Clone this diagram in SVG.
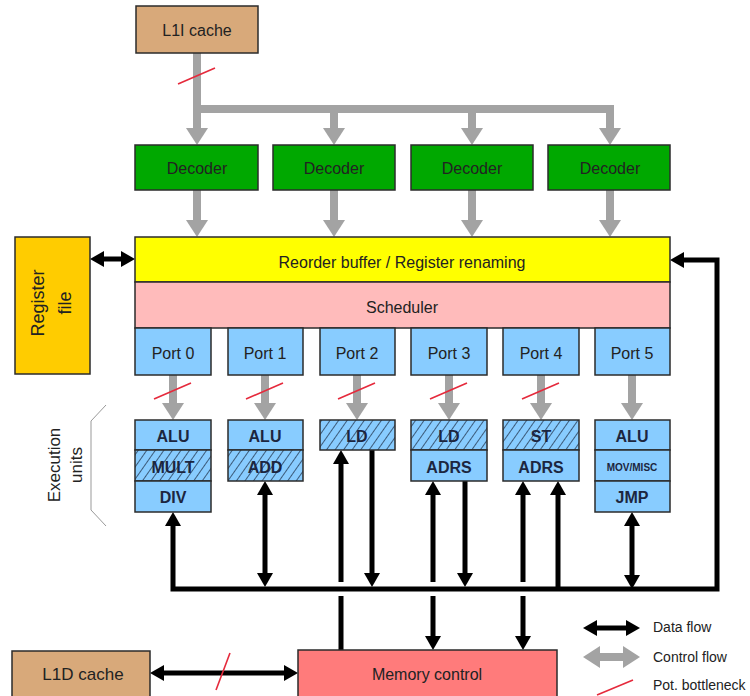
<svg xmlns="http://www.w3.org/2000/svg" width="750" height="696" viewBox="0 0 750 696">
  <defs>
    <style>
      .box { stroke: #2b2b2b; stroke-width: 1.5; }
      .cache { fill: #D8A97A; }
      .dec { fill: #00A800; }
      .port { fill: #88CCFF; }
      .hatch { fill: url(#hatch); }
      .t { font-family: "Liberation Sans", Arial, sans-serif; font-size: 16px; fill: #222; text-anchor: middle; dominant-baseline: central; }
      .u { font-family: "Liberation Sans", Arial, sans-serif; font-size: 16px; font-weight: bold; fill: #1c2640; text-anchor: middle; dominant-baseline: central; }
      .lg { font-family: "Liberation Sans", Arial, sans-serif; font-size: 14px; fill: #222; dominant-baseline: central; }
      .ctl { stroke: #A3A3A3; stroke-width: 8; fill: none; }
      .data { stroke: #000; stroke-width: 5; fill: none; }
      .slash { stroke: #E52A3C; stroke-width: 1.6; fill: none; }
      .brace { stroke: #999; stroke-width: 1; fill: none; }
    </style>
    <pattern id="hatch" patternUnits="userSpaceOnUse" width="7" height="7" patternTransform="rotate(35)">
      <rect width="7" height="7" fill="#88CCFF"/>
      <line x1="0" y1="0" x2="0" y2="7" stroke="#1b2a40" stroke-width="1.4"/>
    </pattern>
    <marker id="ga" markerUnits="userSpaceOnUse" markerWidth="18" markerHeight="24" refX="0" refY="11" orient="auto-start-reverse">
      <path d="M0,0 L17,11 L0,22 Z" fill="#A3A3A3"/>
    </marker>
    <marker id="ba" markerUnits="userSpaceOnUse" markerWidth="16" markerHeight="18" refX="0" refY="8" orient="auto-start-reverse">
      <path d="M0,0 L14,8 L0,16 Z" fill="#000"/>
    </marker>
  </defs>

  <!-- control flow (grey) and data flow (black) connectors -->
  <g id="connectors">
    <!-- fetch to decoders -->
    <path class="ctl" d="M197,53 L197,109 L610,109"/>
    <path class="ctl" marker-end="url(#ga)" d="M197,109 L197,128"/>
    <path class="ctl" marker-end="url(#ga)" d="M334,109 L334,128"/>
    <path class="ctl" marker-end="url(#ga)" d="M472,109 L472,128"/>
    <path class="ctl" marker-end="url(#ga)" d="M610,105 L610,128"/>
    <!-- decoders to reorder buffer -->
    <path class="ctl" marker-end="url(#ga)" d="M197,190 L197,220"/>
    <path class="ctl" marker-end="url(#ga)" d="M334,190 L334,220"/>
    <path class="ctl" marker-end="url(#ga)" d="M472,190 L472,220"/>
    <path class="ctl" marker-end="url(#ga)" d="M610,190 L610,220"/>
    <!-- ports to execution units -->
    <path class="ctl" marker-end="url(#ga)" d="M173,375 L173,403"/>
    <path class="ctl" marker-end="url(#ga)" d="M265,375 L265,403"/>
    <path class="ctl" marker-end="url(#ga)" d="M357,375 L357,403"/>
    <path class="ctl" marker-end="url(#ga)" d="M449,375 L449,403"/>
    <path class="ctl" marker-end="url(#ga)" d="M541,375 L541,403"/>
    <path class="ctl" marker-end="url(#ga)" d="M632,375 L632,403"/>

    <!-- register file <-> reorder buffer -->
    <path class="data" marker-start="url(#ba)" marker-end="url(#ba)" d="M104,259 L121,259"/>
    <!-- result bus with write-back to reorder buffer -->
    <path class="data" marker-start="url(#ba)" marker-end="url(#ba)" d="M173,526 L173,589 L717,589 L717,260 L684,260"/>
    <path class="data" marker-start="url(#ba)" marker-end="url(#ba)" d="M265,495 L265,573"/>
    <path class="data" marker-end="url(#ba)" d="M341,650 L341,596 M341,582 L341,464"/>
    <path class="data" marker-end="url(#ba)" d="M372,450 L372,573"/>
    <path class="data" marker-start="url(#ba)" marker-end="url(#ba)" d="M433,636 L433,596 M433,582 L433,495"/>
    <path class="data" marker-end="url(#ba)" d="M465,481 L465,573"/>
    <path class="data" marker-start="url(#ba)" marker-end="url(#ba)" d="M523,636 L523,596 M523,582 L523,495"/>
    <path class="data" marker-end="url(#ba)" d="M558,589 L558,495"/>
    <path class="data" marker-start="url(#ba)" marker-end="url(#ba)" d="M632,526 L632,575"/>
    <!-- L1D cache <-> memory control -->
    <path class="data" marker-start="url(#ba)" marker-end="url(#ba)" d="M164,673 L284,673"/>

    <!-- potential bottlenecks -->
    <line class="slash" x1="178" y1="84" x2="215" y2="68"/>
    <line class="slash" x1="154" y1="399" x2="191" y2="383"/>
    <line class="slash" x1="246" y1="399" x2="283" y2="383"/>
    <line class="slash" x1="338" y1="399" x2="375" y2="383"/>
    <line class="slash" x1="430" y1="399" x2="467" y2="383"/>
    <line class="slash" x1="522" y1="399" x2="559" y2="383"/>
    <line class="slash" x1="216" y1="690" x2="230" y2="653"/>
  </g>

  <g id="l1i-cache">
    <rect class="box cache" x="136" y="6" width="122" height="47"/>
    <text class="t" x="197" y="30">L1I cache</text>
  </g>

  <g id="decoder-0">
    <rect class="box dec" x="135" y="145" width="123" height="45"/>
    <text class="t" x="197" y="168">Decoder</text>
  </g>
  <g id="decoder-1">
    <rect class="box dec" x="273" y="145" width="122" height="45"/>
    <text class="t" x="334" y="168">Decoder</text>
  </g>
  <g id="decoder-2">
    <rect class="box dec" x="411" y="145" width="122" height="45"/>
    <text class="t" x="472" y="168">Decoder</text>
  </g>
  <g id="decoder-3">
    <rect class="box dec" x="548" y="145" width="122" height="45"/>
    <text class="t" x="610" y="168">Decoder</text>
  </g>

  <g id="register-file">
    <rect class="box" x="15" y="237" width="75" height="137" fill="#FFCC00"/>
    <text class="t" style="font-size:18px" transform="translate(38,303) rotate(-90)">Register</text>
    <text class="t" style="font-size:18px" transform="translate(65,303) rotate(-90)">file</text>
  </g>

  <g id="reorder-buffer">
    <rect class="box" x="135" y="237" width="535" height="45" fill="#FFFF00"/>
    <text class="t" x="402" y="262">Reorder buffer / Register renaming</text>
  </g>

  <g id="scheduler">
    <rect class="box" x="135" y="282" width="535" height="46" fill="#FFBBBB"/>
    <text class="t" x="402" y="307">Scheduler</text>
  </g>

  <g id="port-0">
    <rect class="box port" x="135" y="328" width="76" height="47"/>
    <text class="t" x="173" y="353">Port 0</text>
  </g>
  <g id="port-1">
    <rect class="box port" x="228" y="328" width="75" height="47"/>
    <text class="t" x="265" y="353">Port 1</text>
  </g>
  <g id="port-2">
    <rect class="box port" x="320" y="328" width="75" height="47"/>
    <text class="t" x="357" y="353">Port 2</text>
  </g>
  <g id="port-3">
    <rect class="box port" x="411" y="328" width="76" height="47"/>
    <text class="t" x="449" y="353">Port 3</text>
  </g>
  <g id="port-4">
    <rect class="box port" x="503" y="328" width="76" height="47"/>
    <text class="t" x="541" y="353">Port 4</text>
  </g>
  <g id="port-5">
    <rect class="box port" x="595" y="328" width="75" height="47"/>
    <text class="t" x="632" y="353">Port 5</text>
  </g>

  <g id="units-port-0">
    <rect class="box port" x="135" y="420" width="76" height="30"/>
    <rect class="box hatch" x="135" y="450" width="76" height="31"/>
    <rect class="box port" x="135" y="481" width="76" height="31"/>
    <text class="u" x="173" y="436">ALU</text>
    <text class="u" x="173" y="467">MULT</text>
    <text class="u" x="173" y="497">DIV</text>
  </g>
  <g id="units-port-1">
    <rect class="box port" x="228" y="420" width="75" height="30"/>
    <rect class="box hatch" x="228" y="450" width="75" height="31"/>
    <text class="u" x="265" y="436">ALU</text>
    <text class="u" x="265" y="467">ADD</text>
  </g>
  <g id="units-port-2">
    <rect class="box hatch" x="320" y="420" width="75" height="30"/>
    <text class="u" x="357" y="436">LD</text>
  </g>
  <g id="units-port-3">
    <rect class="box hatch" x="411" y="420" width="76" height="30"/>
    <rect class="box port" x="411" y="450" width="76" height="31"/>
    <text class="u" x="449" y="436">LD</text>
    <text class="u" x="449" y="467">ADRS</text>
  </g>
  <g id="units-port-4">
    <rect class="box hatch" x="503" y="420" width="76" height="30"/>
    <rect class="box port" x="503" y="450" width="76" height="31"/>
    <text class="u" x="541" y="436">ST</text>
    <text class="u" x="541" y="467">ADRS</text>
  </g>
  <g id="units-port-5">
    <rect class="box port" x="595" y="420" width="75" height="30"/>
    <rect class="box port" x="595" y="450" width="75" height="31"/>
    <rect class="box port" x="595" y="481" width="75" height="31"/>
    <text class="u" x="632" y="436">ALU</text>
    <text class="u" style="font-size:10px" x="632" y="467">MOV/MISC</text>
    <text class="u" x="632" y="497">JMP</text>
  </g>

  <g id="execution-units-label">
    <path class="brace" d="M106,405 L91,421 L91,510 L106,526"/>
    <text class="t" style="font-size:17px" transform="translate(54,465) rotate(-90)">Execution</text>
    <text class="t" style="font-size:17px" transform="translate(76,465) rotate(-90)">units</text>
  </g>

  <g id="l1d-cache">
    <rect class="box cache" x="12" y="651" width="138" height="50"/>
    <text class="t" style="font-size:17px" x="83" y="674">L1D cache</text>
  </g>

  <g id="memory-control">
    <rect class="box" x="298" y="650" width="259" height="51" fill="#FF7B7B"/>
    <text class="t" x="427" y="674">Memory control</text>
  </g>

  <g id="legend">
    <path class="data" marker-start="url(#ba)" marker-end="url(#ba)" d="M597,628 L626,628"/>
    <text class="lg" x="653" y="627">Data flow</text>
    <path class="ctl" marker-start="url(#ga)" marker-end="url(#ga)" d="M600,657 L623,657"/>
    <text class="lg" x="653" y="657">Control flow</text>
    <line class="slash" x1="597" y1="695" x2="633" y2="680"/>
    <text class="lg" x="653" y="685">Pot. bottleneck</text>
  </g>
</svg>
